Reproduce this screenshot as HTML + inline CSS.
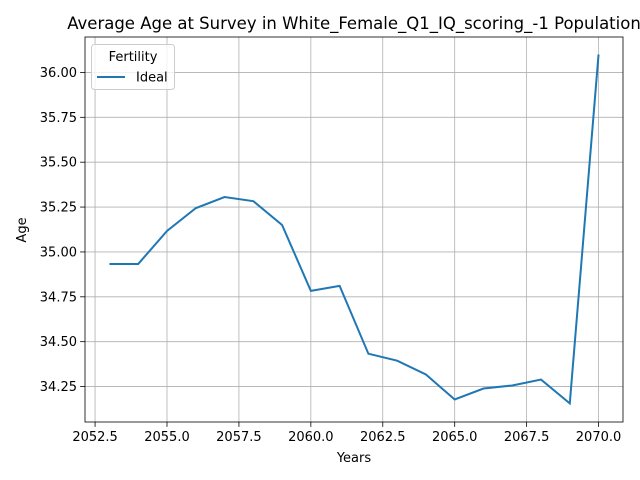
<!DOCTYPE html>
<html><head><meta charset="utf-8"><style>
body{margin:0;background:#fff;}
svg{display:block;font-family:"DejaVu Sans","Liberation Sans",sans-serif;}
</style></head><body>
<svg id="chart" width="640" height="480"></svg>
<script>
const years=[2053,2054,2055,2056,2057,2058,2059,2060,2061,2062,2063,2064,2065,2066,2067,2068,2069,2070];
const ages=[34.933,34.933,35.117,35.244,35.306,35.283,35.15,34.783,34.811,34.433,34.394,34.317,34.178,34.239,34.256,34.289,34.156,36.1];
const xTicks=[2052.5,2055.0,2057.5,2060.0,2062.5,2065.0,2067.5,2070.0];
const yTicks=[34.25,34.50,34.75,35.00,35.25,35.50,35.75,36.00];
const L=85,R=623,T=37,B=422;
const xmin=2052.15,xmax=2070.85,ymin=34.0525,ymax=36.1975;
const sx=v=>L+(v-xmin)/(xmax-xmin)*(R-L);
const sy=v=>B-(v-ymin)/(ymax-ymin)*(B-T);
const svg=document.getElementById('chart');
const NS='http://www.w3.org/2000/svg';
function mk(tag,attrs,txt){const e=document.createElementNS(NS,tag);for(const k in attrs)e.setAttribute(k,attrs[k]);if(txt!==undefined)e.textContent=txt;svg.appendChild(e);return e;}
xTicks.forEach(t=>{const x=sx(t);
 let g=mk('line',{x1:x,x2:x,y1:T,y2:B,stroke:'#b0b0b0','stroke-width':0.8});
 
 
 mk('line',{x1:x,x2:x,y1:B,y2:B+4.9,stroke:'#000','stroke-width':0.8});
 let l=mk('text',{x:x,y:B+19,'font-size':13,'text-anchor':'middle'},t.toFixed(1));
 
 
});
yTicks.forEach(t=>{const y=sy(t);
 let g=mk('line',{x1:L,x2:R,y1:y,y2:y,stroke:'#b0b0b0','stroke-width':0.8});
 
 
 mk('line',{x1:L-4.9,x2:L,y1:y,y2:y,stroke:'#000','stroke-width':0.8});
 let l=mk('text',{x:L-8,y:y+4.5,'font-size':13,'text-anchor':'end'},t.toFixed(2));
 
 
});
const line=mk('polyline',{points:years.map((y,i)=>sx(y)+','+sy(ages[i])).join(' '),fill:'none',stroke:'#1f77b4','stroke-width':2});


const frame=mk('rect',{x:L,y:T,width:R-L,height:B-T,fill:'none',stroke:'#000','stroke-width':0.8});


const title=mk('text',{x:354,y:29,'font-size':16.5,'text-anchor':'middle'},'Average Age at Survey in White_Female_Q1_IQ_scoring_-1 Population');


const xt=mk('text',{x:354,y:462,'font-size':13,'text-anchor':'middle'},'Years');


const yt=mk('text',{x:26,y:230,'font-size':13,'text-anchor':'middle',transform:'rotate(-90 26 230)'},'Age');


const lg=mk('rect',{x:91.5,y:44.5,width:83,height:45,rx:3,fill:'#fff','fill-opacity':0.8,stroke:'#ccc'});


const lt=mk('text',{x:133,y:61,'font-size':13,'text-anchor':'middle'},'Fertility');


const ll=mk('line',{x1:97,x2:125,y1:77,y2:77,stroke:'#1f77b4','stroke-width':2});


const le=mk('text',{x:136,y:81.5,'font-size':13},'Ideal');


</script>
</body></html>
